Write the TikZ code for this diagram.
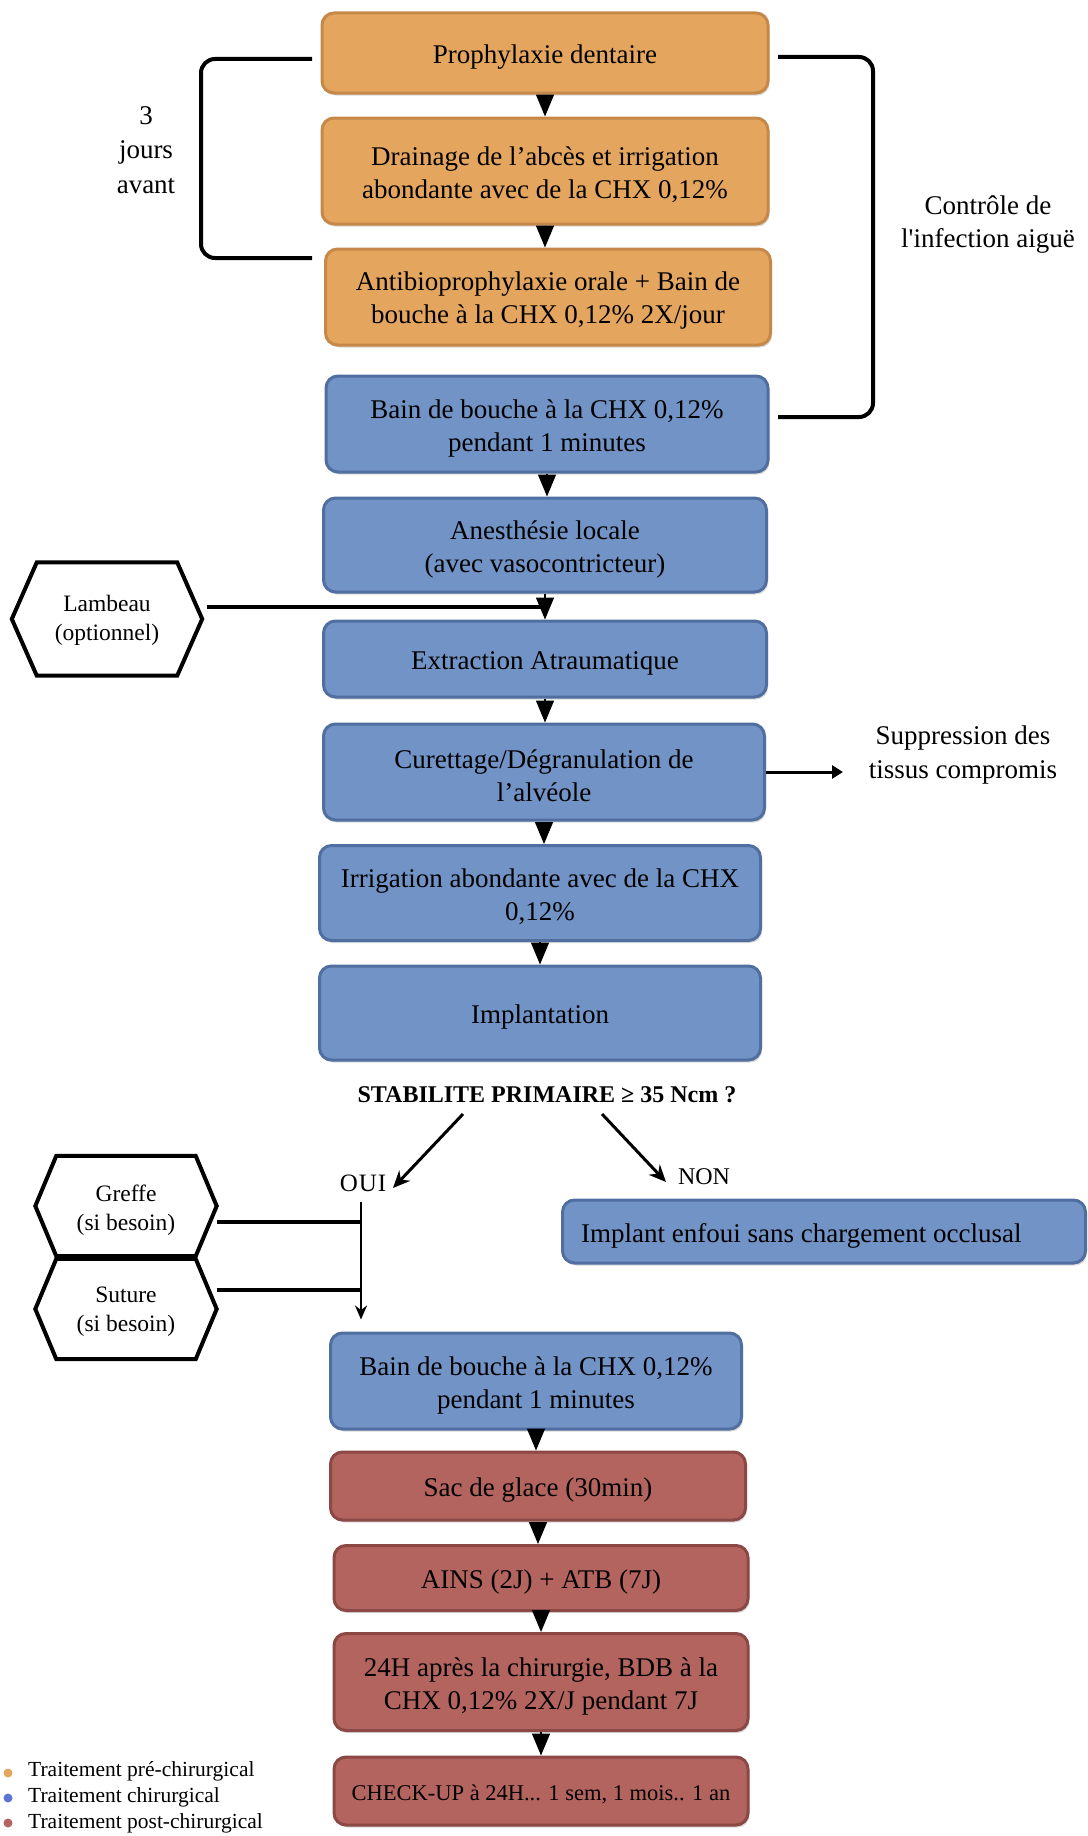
\documentclass[tikz,border=0pt]{standalone}
\usepackage{fontspec}
\setmainfont{Liberation Serif}
\usetikzlibrary{arrows.meta,shadows}
\definecolor{orf}{RGB}{228,165,94}
\definecolor{ord}{RGB}{198,136,72}
\definecolor{blf}{RGB}{113,147,198}
\definecolor{bld}{RGB}{80,110,160}
\definecolor{rdf}{RGB}{180,100,95}
\definecolor{rdd}{RGB}{140,72,68}
\newcommand\bxfont{\fontsize{27}{33}\selectfont}
\newcommand\hxfont{\fontsize{23.5}{29}\selectfont}
\newcommand\hexo[2]{\draw[hexline] ([xshift=#2]#1.north west) -- ([xshift=-#2]#1.north east) -- (#1.east) -- ([xshift=-#2]#1.south east) -- ([xshift=#2]#1.south west) -- (#1.west) -- cycle;}
\begin{document}
\begin{tikzpicture}[x=1pt,y=-1pt,
  box/.style={draw, line width=3pt, rounded corners=12pt, inner sep=0pt,
    drop shadow={shadow xshift=1.5pt,shadow yshift=-2.5pt,opacity=0.3}},
  prebox/.style={box, fill=orf, draw=ord},
  chirbox/.style={box, fill=blf, draw=bld},
  postbox/.style={box, fill=rdf, draw=rdd},
  bt/.style={align=center, font=\bxfont, inner sep=0pt, yshift=-4pt},
  hexbox/.style={inner sep=0pt, align=center, font=\hxfont},
  hexline/.style={line width=4pt, fill=white, line join=miter},
  tri/.style={line width=1.5pt, -{Triangle[width=18pt,length=22pt]}},
  thk/.style={line width=4pt},
  brk/.style={line width=4pt, rounded corners=14pt},
  diag/.style={line width=3pt, -{Stealth[length=17pt,width=15pt]}},
  plain/.style={align=center, font=\bxfont}
]
\useasboundingbox (0,0) rectangle (1087,1836);

% boxes
\node[prebox, minimum width=446pt, minimum height=80pt, label={[bt]center:{Prophylaxie dentaire}}] (p1) at (545,53) {};
\node[prebox, minimum width=446pt, minimum height=106pt, label={[bt]center:{Drainage de l’abcès et irrigation\\abondante avec de la CHX 0,12\%}}] (p2) at (545,171) {};
\node[prebox, minimum width=445pt, minimum height=96pt, label={[bt]center:{Antibioprophylaxie orale + Bain de\\bouche à la CHX 0,12\% 2X/jour}}] (p3) at (548,297) {};
\node[chirbox, minimum width=442pt, minimum height=96pt, label={[bt]center:{Bain de bouche à la CHX 0,12\%\\pendant 1 minutes}}] (b1) at (547,424) {};
\node[chirbox, minimum width=443pt, minimum height=94pt, label={[bt]center:{Anesthésie locale\\(avec vasocontricteur)}}] (b2) at (545,545) {};
\node[chirbox, minimum width=443pt, minimum height=76pt, label={[bt]center:{Extraction Atraumatique}}] (b3) at (545,659) {};
\node[chirbox, minimum width=441pt, minimum height=96pt, label={[bt]center:{Curettage/Dégranulation de\\l’alvéole}}] (b4) at (544,772) {};
\node[chirbox, minimum width=441pt, minimum height=95pt, label={[bt]center:{Irrigation abondante avec de la CHX\\0,12\%}}] (b5) at (540,893) {};
\node[chirbox, minimum width=441pt, minimum height=94pt, label={[bt]center:{Implantation}}] (b6) at (540,1013) {};
\node[font=\fontsize{24}{28}\selectfont\bfseries] (stab) at (547,1095) {STABILITE PRIMAIRE ≥ 35 Ncm ?};
\node[font=\fontsize{25}{28}\selectfont] (oui) at (363,1183) {O\kern1pt U\kern1pt I};
\node[font=\fontsize{24}{28}\selectfont] (non) at (704,1177) {NON};
\node[chirbox, minimum width=523pt, minimum height=63pt, label={[bt, anchor=west, xshift=20pt]west:{Implant enfoui sans chargement occlusal}}] (b7) at (824,1231.5) {};
\node[chirbox, minimum width=411pt, minimum height=96pt, label={[bt]center:{Bain de bouche à la CHX 0,12\%\\pendant 1 minutes}}] (b8) at (536,1381) {};
\node[postbox, minimum width=415pt, minimum height=68pt, label={[bt]center:{Sac de glace (30min)}}] (r1) at (538,1486) {};
\node[postbox, minimum width=414pt, minimum height=65pt, label={[bt]center:{AINS (2J) + ATB (7J)}}] (r2) at (541,1578) {};
\node[postbox, minimum width=414pt, minimum height=97pt, label={[bt]center:{24H après la chirurgie, BDB à la\\CHX 0,12\% 2X/J pendant 7J}}] (r3) at (541,1682) {};
\node[postbox, minimum width=414pt, minimum height=68pt, label={[bt, font=\fontsize{22.5}{27}\selectfont, yshift=1pt]center:{CHECK-UP à 24H... 1 sem, 1 mois.. 1 an}}] (r4) at (541,1791) {};

% side texts
\node[plain, font=\fontsize{27}{34.5}\selectfont] (jours) at (146,150) {3\\jours\\avant};
\node[plain] (ctrl) at (988,225) {Contrôle de\\l\textquotesingle infection aiguë};
\node[plain, font=\fontsize{27}{34}\selectfont] (supp) at (963,755) {Suppression des\\tissus compromis};

% hexagons
\node[hexbox, minimum width=190pt, minimum height=113pt] (lam) at (107,619) {};
\hexo{lam}{25pt}
\node[hexbox] at (107,620) {Lambeau\\(optionnel)};
\node[hexbox, minimum width=181pt, minimum height=100pt] (gr) at (126,1206) {};
\hexo{gr}{21pt}
\node[hexbox] at (126,1210) {Greffe\\(si besoin)};
\node[hexbox, minimum width=181pt, minimum height=100pt] (su) at (126,1309) {};
\hexo{su}{21pt}
\node[hexbox] at (126,1312) {Suture\\(si besoin)};

% vertical flow arrows
\draw[tri] (p1.south) -- (p1.south |- p2.north);
\draw[tri] (p2.south) -- (p2.south |- p3.north);
\draw[tri] (b1.south) -- (b1.south |- b2.north);
\draw[tri] (b2.south) -- (b2.south |- b3.north);
\draw[tri] (b3.south) -- (b3.south |- b4.north);
\draw[tri] (b4.south) -- (b4.south |- b5.north);
\draw[tri] (b5.south) -- (b5.south |- b6.north);
\draw[tri] (b8.south) -- (b8.south |- r1.north);
\draw[tri] (r1.south) -- (r1.south |- r2.north);
\draw[tri] (r2.south) -- (r2.south |- r3.north);
\draw[tri] (r3.south) -- (r3.south |- r4.north);

% lambeau connector
\coordinate (lj) at (545,607);
\draw[thk, shorten <=5pt] (lam.east |- lj) -- (lj);

% brackets
\draw[brk] (312,59) -- (201,59) -- (201,258) -- (312,258);
\draw[brk] (778,57) -- (873,57) -- (873,417) -- (778,417);

% curettage arrow
\coordinate (se) at (843,772);
\draw[line width=3pt, -{Triangle[width=13pt,length=11pt]}] (b4.east) -- (se);

% decision arrows
\coordinate (o1) at (463,1114);
\coordinate (o2) at (393,1188);
\coordinate (n1) at (602,1114);
\coordinate (n2) at (666,1182);
\draw[diag] (o1) -- (o2);
\draw[diag] (n1) -- (n2);

% greffe / suture connectors
\coordinate (oj) at (361,1202);
\coordinate (gj) at (361,1222);
\coordinate (sj) at (361,1290);
\draw[thk] (gj -| gr.east) -- (gj);
\draw[thk] (sj -| su.east) -- (sj);
\draw[line width=2.5pt, -{Stealth[length=14pt,width=12pt]}, shorten >=12pt] (oj) -- (oj |- b8.north);

% legend
\fill[orf] (8,1773) circle (4.5pt);
\fill[blf!80!blue] (8,1798) circle (4.5pt);
\fill[rdf] (8,1823) circle (4.5pt);
\node[anchor=west, inner sep=0pt, font=\fontsize{21.5}{26}\selectfont] (lg1) at (28,1771) {Traitement pré-chirurgical};
\node[anchor=west, inner sep=0pt, font=\fontsize{21.5}{26}\selectfont] (lg2) at (28,1797) {Traitement chirurgical};
\node[anchor=west, inner sep=0pt, font=\fontsize{21.5}{26}\selectfont] (lg3) at (28,1823) {Traitement post-chirurgical};
\end{tikzpicture}
\end{document}
